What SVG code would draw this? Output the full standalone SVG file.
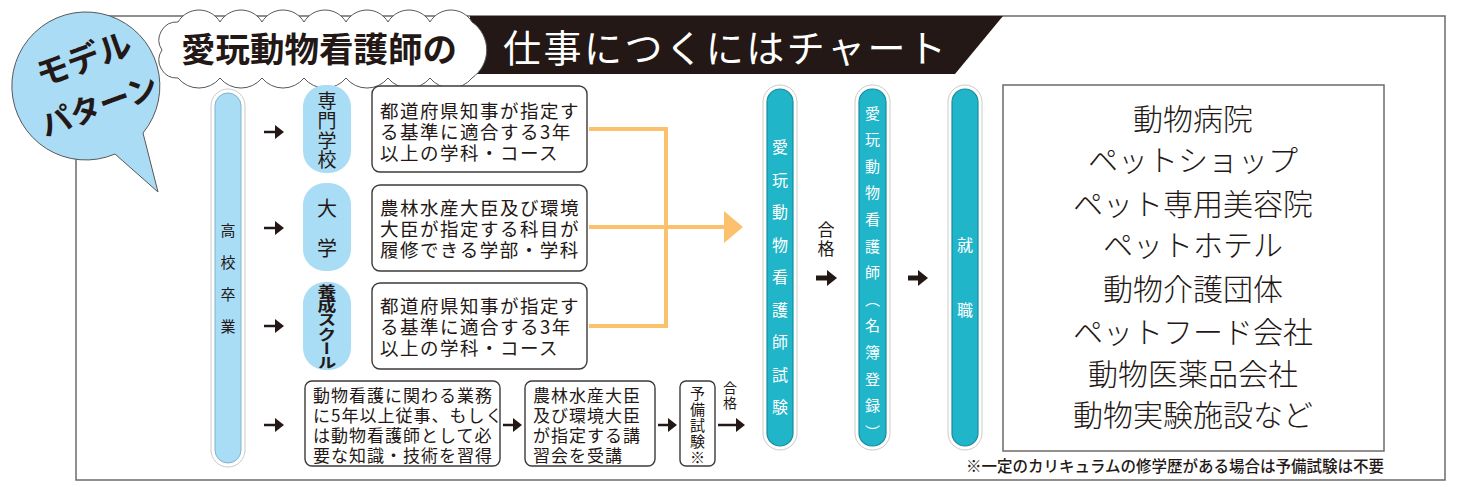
<svg xmlns="http://www.w3.org/2000/svg" width="1459" height="487" viewBox="0 0 1459 487">
<style>
text{font-family:"Noto Sans CJK JP","Noto Sans CJK SC",sans-serif;fill:#231815}
.vt{writing-mode:vertical-rl}
.pout{fill:#fff;stroke:#c9caca;stroke-width:1}
.pin-b{fill:#a9dcf5;stroke:#7fb3cf;stroke-width:1}
.pin-t{fill:#20b5c9;stroke:#178d9f;stroke-width:1.2}
.pill{fill:#a9dcf5}
.box{fill:#fff;stroke:#3e3a39;stroke-width:1.4}
.bt{font-size:18.5px;letter-spacing:1.5px;dominant-baseline:central}
.bt4{font-size:17px;letter-spacing:1px;dominant-baseline:central}
.wt{fill:#fff}
.job{font-size:30px;font-weight:300;text-anchor:middle;dominant-baseline:central}
.arr{stroke:#231815;stroke-width:2.5;fill:none}
.arrb{stroke:#231815;stroke-width:5;fill:none}
.org{stroke:#fcc16d;stroke-width:4;fill:none}
</style>
<defs>
<marker id="ah" viewBox="0 0 9 14" refX="0" refY="7" markerWidth="9" markerHeight="14" markerUnits="userSpaceOnUse" orient="auto"><path d="M0,0 L9,7 L0,14 Z" fill="#231815"/></marker>
<marker id="ahb" viewBox="0 0 10 16" refX="0" refY="8" markerWidth="10" markerHeight="16" markerUnits="userSpaceOnUse" orient="auto"><path d="M0,0 L10,8 L0,16 Z" fill="#231815"/></marker>
</defs>

<rect id="frame" x="76" y="16" width="1369" height="464" fill="#fff" stroke="#6e6a69" stroke-width="1.5"/>

<g id="model-bubble">
<path d="M143,133 A74,74 0 1 0 115,154 L158,192 Z" fill="#aadcf5" stroke="#595757" stroke-width="1"/>
<text x="84" y="71" font-size="33" font-weight="700" text-anchor="middle" transform="rotate(-20 84 60)">モデル</text>
<text x="99" y="117" font-size="31" font-weight="700" text-anchor="middle" transform="rotate(-20 99 105)">パターン</text>
</g>

<g id="title-banner">
<polygon points="470,16 1003,16 955,74 470,74" fill="#231815"/>
<text x="503" y="45" font-size="38" dominant-baseline="central" textLength="443" lengthAdjust="spacing" class="wt">仕事につくにはチャート</text>
</g>

<g id="title-cloud">
<path d="M178,22 A24.4,24.4 0 0 1 220,22 A24.4,24.4 0 0 1 262,22 A24.4,24.4 0 0 1 304,22 A24.4,24.4 0 0 1 346,22 A24.4,24.4 0 0 1 388,22 A24.4,24.4 0 0 1 430,22 A24.4,24.4 0 0 1 472,22 A34,34 0 0 1 472,78 A27,27 0 0 1 430,78 A27,27 0 0 1 388,78 A27,27 0 0 1 346,78 A27,27 0 0 1 304,78 A27,27 0 0 1 262,78 A27,27 0 0 1 220,78 A27,27 0 0 1 178,78 A18,18 0 0 1 162,50 A18,18 0 0 1 178,22 Z" fill="#fff" stroke="#595757" stroke-width="1"/>
<text x="319" y="47" font-size="34.5" font-weight="700" text-anchor="middle" dominant-baseline="central">愛玩動物看護師の</text>
</g>

<g id="connectors">
<path class="arr" d="M264,132 H275" marker-end="url(#ah)"/>
<path class="arr" d="M264,228 H275" marker-end="url(#ah)"/>
<path class="arr" d="M264,326 H275" marker-end="url(#ah)"/>
<path class="arr" d="M264,425 H275" marker-end="url(#ah)"/>
<path class="arr" d="M503,425 H513" marker-end="url(#ah)"/>
<path class="arr" d="M658,425 H668" marker-end="url(#ah)"/>
<path class="arr" d="M718,425 H736" marker-end="url(#ah)"/>
<path class="org" d="M589,129 H666 V326 H589"/>
<path class="org" d="M589,227 H725"/>
<polygon points="724,211 743,227 724,243" fill="#fcc16d"/>
<path class="arrb" d="M816,278 H827" marker-end="url(#ahb)"/>
<path class="arrb" d="M908,278 H918" marker-end="url(#ahb)"/>
</g>

<g id="highschool">
<rect class="pout" x="211" y="89" width="34" height="378" rx="17"/>
<rect class="pin-b" x="215" y="93" width="26" height="370" rx="13"/>
<text class="vt" x="228" y="222.5" font-size="15" letter-spacing="17">高校卒業</text>
</g>

<g id="senmon">
<rect class="pill" x="303" y="85" width="48" height="88" rx="22"/>
<text class="vt" x="327" y="91.5" font-size="19" letter-spacing="0.7">専門学校</text>
</g>
<g id="senmon-box">
<rect class="box" x="372" y="86" width="215" height="86" rx="8"/>
<text class="bt" x="380" y="110">都道府県知事が指定す</text>
<text class="bt" x="380" y="131">る基準に適合する3年</text>
<text class="bt" x="380" y="152">以上の学科・コース</text>
</g>

<g id="daigaku">
<rect class="pill" x="303" y="183" width="48" height="88" rx="22"/>
<text class="vt" x="327" y="198" font-size="20" letter-spacing="20">大学</text>
</g>
<g id="daigaku-box">
<rect class="box" x="372" y="185" width="215" height="86" rx="8"/>
<text class="bt" x="380" y="207">農林水産大臣及び環境</text>
<text class="bt" x="380" y="228">大臣が指定する科目が</text>
<text class="bt" x="380" y="249">履修できる学部・学科</text>
</g>

<g id="yousei">
<rect class="pill" x="303" y="282" width="48" height="88" rx="22"/>
<text class="vt" x="327" y="284" font-size="14.5" font-weight="700" letter-spacing="-0.2" transform="translate(327 0) scale(1.3 1) translate(-327 0)">養成スクール</text>
</g>
<g id="yousei-box">
<rect class="box" x="372" y="283" width="215" height="86" rx="8"/>
<text class="bt" x="380" y="305">都道府県知事が指定す</text>
<text class="bt" x="380" y="326">る基準に適合する3年</text>
<text class="bt" x="380" y="347">以上の学科・コース</text>
</g>

<g id="experience-box">
<rect class="box" x="305" y="381" width="195" height="85" rx="7"/>
<text class="bt4" x="313" y="394">動物看護に関わる業務</text>
<text class="bt4" x="313" y="414">に5年以上従事、もしく</text>
<text class="bt4" x="313" y="434">は動物看護師として必</text>
<text class="bt4" x="313" y="454">要な知識・技術を習得</text>
</g>

<g id="course-box">
<rect class="box" x="525" y="381" width="130" height="85" rx="7"/>
<text class="bt4" x="533" y="394" font-size="18" letter-spacing="1.4">農林水産大臣</text>
<text class="bt4" x="533" y="414" font-size="18" letter-spacing="1.4">及び環境大臣</text>
<text class="bt4" x="533" y="434" font-size="18" letter-spacing="1.4">が指定する講</text>
<text class="bt4" x="533" y="454" font-size="18" letter-spacing="1.4">習会を受講</text>
</g>

<g id="prelim-exam">
<rect class="box" x="680" y="381" width="35" height="85" rx="6"/>
<text class="vt" x="697.5" y="385.5" font-size="15" letter-spacing="1.2">予備試験※</text>
</g>
<g id="pass-label-1">
<text class="vt" x="730" y="381" font-size="14" letter-spacing="1">合格</text>
</g>

<g id="exam">
<rect class="pout" x="763" y="85" width="34" height="365" rx="17"/>
<rect class="pin-t" x="767" y="89" width="26" height="357" rx="13"/>
<text class="vt wt" x="780" y="139" font-size="16" letter-spacing="16.5">愛玩動物看護師試験</text>
</g>
<g id="pass-label-2">
<text class="vt" x="826" y="221.5" font-size="17" letter-spacing="1.5">合格</text>
</g>

<g id="register">
<rect class="pout" x="855" y="85" width="35" height="365" rx="17"/>
<rect class="pin-t" x="859" y="89" width="27" height="357" rx="13"/>
<text class="vt wt" x="872.5" y="105.5" font-size="15" letter-spacing="11.6">愛玩動物看護師（名簿登録）</text>
</g>

<g id="employment">
<rect class="pout" x="948" y="85" width="34" height="365" rx="17"/>
<rect class="pin-t" x="952" y="89" width="26" height="357" rx="13"/>
<text class="vt wt" x="965" y="237" font-size="16" letter-spacing="49">就職</text>
</g>

<g id="jobs">
<rect x="1003" y="85" width="381" height="366" fill="#fff" stroke="#6e6a69" stroke-width="1.5"/>
<text class="job" x="1193" y="117">動物病院</text>
<text class="job" x="1193" y="158">ペットショップ</text>
<text class="job" x="1193" y="202">ペット専用美容院</text>
<text class="job" x="1193" y="243">ペットホテル</text>
<text class="job" x="1193" y="287">動物介護団体</text>
<text class="job" x="1193" y="330">ペットフード会社</text>
<text class="job" x="1193" y="372">動物医薬品会社</text>
<text class="job" x="1193" y="413">動物実験施設など</text>
</g>

<g id="footnote">
<text x="1384" y="465" font-size="15.5" font-weight="500" text-anchor="end" dominant-baseline="central">※一定のカリキュラムの修学歴がある場合は予備試験は不要</text>
</g>
</svg>
